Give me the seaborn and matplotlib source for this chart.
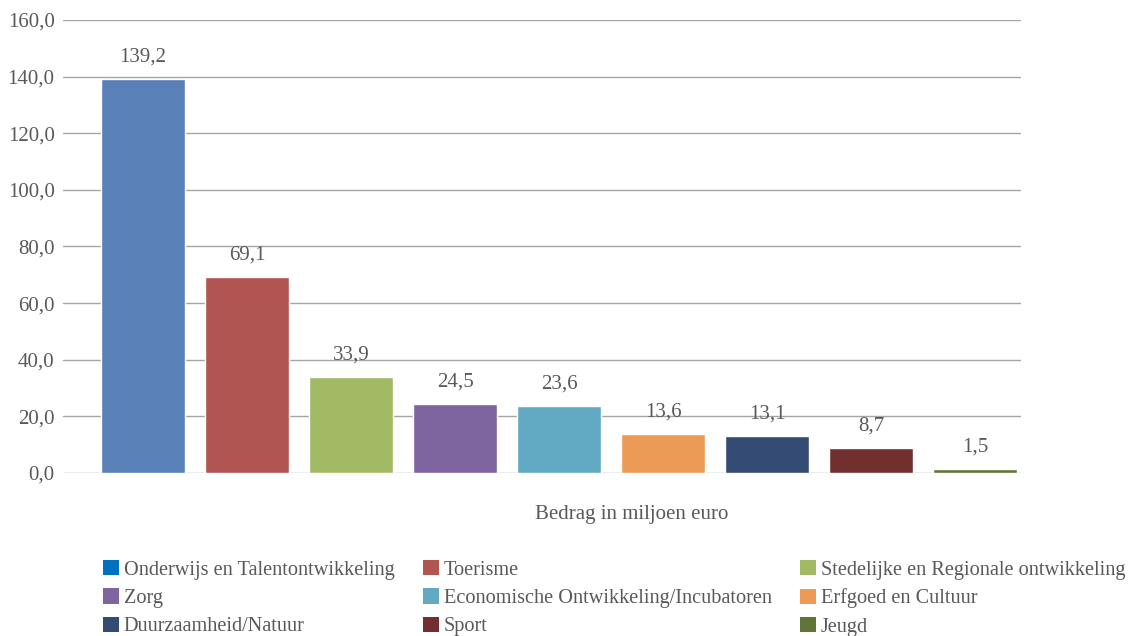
import matplotlib
matplotlib.use("Agg")
import matplotlib.pyplot as plt
import seaborn as sns
import pandas as pd
from matplotlib.patches import Patch

categories = ["Onderwijs en Talentontwikkeling", "Toerisme", "Stedelijke en Regionale ontwikkeling",
              "Zorg", "Economische Ontwikkeling/Incubatoren", "Erfgoed en Cultuur",
              "Duurzaamheid/Natuur", "Sport", "Jeugd"]
values = [139.2, 69.1, 33.9, 24.5, 23.6, 13.6, 13.1, 8.7, 1.5]
bar_colors = ["#5A80B8", "#B05551", "#A2BA64", "#7E65A0", "#62AAC3", "#EC9B57", "#344B73", "#722F2F", "#61743A"]
legend_colors = ["#0070C0"] + bar_colors[1:]
yticks = [0, 20, 40, 60, 80, 100, 120, 140, 160]
xlabel = "Bedrag in miljoen euro"

sns.set_style("white")
plt.rcParams['font.family'] = ['Liberation Serif', 'DejaVu Serif']
text_color = "#595959"
fs = 15
lfs = 14.6

df = pd.DataFrame({"cat": categories, "val": values})

fig = plt.figure(figsize=(11.29, 6.36), dpi=100)
ax = fig.add_axes([63/1129, 1-473/636, (1021-63)/1129, (473-20)/636])
sns.barplot(data=df, x="cat", y="val", hue="cat", palette=bar_colors, legend=False,
            width=0.81, saturation=1, ax=ax, order=categories, hue_order=categories)

ax.set_ylim(0, 160)
ax.set_xlim(-0.77, 8.44)
ax.set_yticks(yticks)
ax.set_yticklabels([f"{v:.1f}".replace(".", ",") for v in yticks], color=text_color, fontsize=fs)
ax.set_xticks([])
ax.set_xlabel("")
ax.set_ylabel("")
ax.tick_params(axis="y", length=0, pad=6)
ax.grid(axis="y", color="#A6A6A6", linewidth=1)
ax.set_axisbelow(True)
for s in ax.spines.values():
    s.set_visible(False)

for cont in ax.containers:
    ax.bar_label(cont, labels=[f"{v:.1f}".replace(".", ",") for v in cont.datavalues],
                 padding=9, color=text_color, fontsize=fs)

fig.text(632/1129, 1-515/636, xlabel, ha="center", va="center", color=text_color, fontsize=fs)

handles = [Patch(facecolor=c, edgecolor="none") for c in legend_colors]
col_x = [103, 423, 800]
for col in range(3):
    idx = [col, col + 3, col + 6]
    fig.legend([handles[i] for i in idx], [categories[i] for i in idx],
               ncol=1, loc="upper left", bbox_to_anchor=(col_x[col]/1129, 1-560/636),
               frameon=False, fontsize=lfs, handlelength=0.78, handleheight=0.78,
               handletextpad=0.25, labelspacing=0.43,
               labelcolor=text_color, borderpad=0, borderaxespad=0)

fig.savefig("out.png", dpi=100)
